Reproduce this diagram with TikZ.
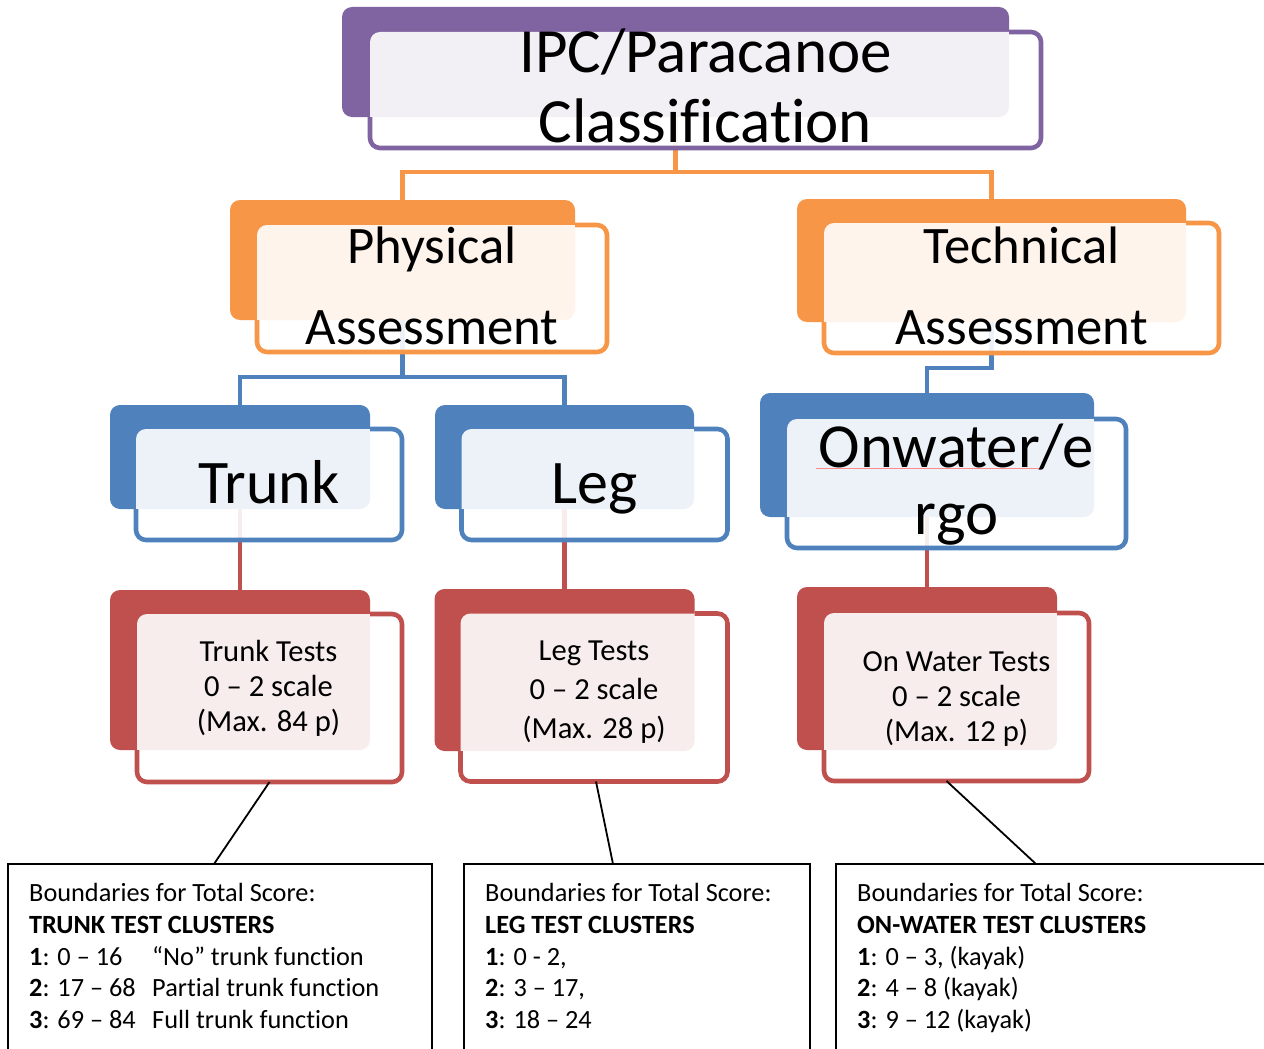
\documentclass[tikz,border=0pt]{standalone}
\usepackage{fontspec}
\setmainfont{Carlito}[Ligatures={NoCommon}]
\definecolor{cpur}{HTML}{8064A2}
\definecolor{corg}{HTML}{F79646}
\definecolor{cblu}{HTML}{4F81BD}
\definecolor{cred}{HTML}{C0504D}
\tikzset{
  backbox/.style={fill=#1, rounded corners=10pt, inner sep=0pt, outer sep=0pt, draw=none, rectangle},
  frontshape/.style={rectangle, inner sep=0pt, outer sep=0pt},
  link/.style={draw=#1, line width=4.6pt},
  frontborder/.style={draw=#1, line width=4.6pt, rounded corners=10pt},
  fronttint/.style={fill=white, fill opacity=0.9, rounded corners=10pt},
  thinlink/.style={draw=black, line width=1.8pt},
  scorebox/.style={rectangle, draw=black, line width=2pt, inner sep=0pt, outer sep=0pt},
  bigtext/.style={anchor=base, inner sep=0pt, font=\fontsize{63}{67}\selectfont},
  midtext/.style={anchor=base, inner sep=0pt, font=\fontsize{52.7}{60}\selectfont},
  boxtext/.style={anchor=base, inner sep=0pt, font=\fontsize{62}{67}\selectfont},
  testtext/.style={anchor=base, inner sep=0pt, font=\fontsize{30.6}{35}\selectfont},
  scoretext/.style={anchor=base west, inner sep=0pt, font=\fontsize{26.3}{31.8}\selectfont},
}
\newcommand\frontlayer[3]{%
  \fill[fronttint] (#1.north west) rectangle (#1.south east);
  \begin{scope}
    \clip (#2.east |- #1.north) ++(0,-10) rectangle ++(600,400)
          (#1.west |- #2.south) ++(-10,0) rectangle ++(900,400);
    \draw[frontborder=#3] (#1.north west) rectangle (#1.south east);
  \end{scope}}
\newcommand\colone[1]{\makebox[123pt][l]{#1}}
\begin{document}
\begin{tikzpicture}[x=1pt,y=-1pt]
\useasboundingbox (0,0) rectangle (1264,1049);
\fill[white] (0,0) rectangle (1264,1049);
% back shapes
\node[backbox=cpur, minimum width=667pt, minimum height=110pt] (topb) at (675.5,62) {};
\node[backbox=corg, minimum width=345pt, minimum height=120pt] (physb) at (402.5,260) {};
\node[backbox=corg, minimum width=389pt, minimum height=123pt] (techb) at (991.5,260.5) {};
\node[backbox=cblu, minimum width=260pt, minimum height=104pt] (trunkb) at (240,457) {};
\node[backbox=cblu, minimum width=259pt, minimum height=104pt] (legb) at (564.5,457) {};
\node[backbox=cblu, minimum width=334pt, minimum height=124pt] (onwb) at (927,455) {};
\node[backbox=cred, minimum width=260pt, minimum height=160pt] (ttb) at (240,670) {};
\node[backbox=cred, minimum width=260pt, minimum height=162pt] (ltb) at (564.5,670) {};
\node[backbox=cred, minimum width=260pt, minimum height=163pt] (otb) at (927,668.5) {};
% front shapes (positions only)
\path node[frontshape, minimum width=671pt, minimum height=116pt] (top) at (705.5,90) {};
\path node[frontshape, minimum width=350pt, minimum height=127pt] (phys) at (432,288.5) {};
\path node[frontshape, minimum width=395pt, minimum height=130pt] (tech) at (1021.5,288) {};
\path node[frontshape, minimum width=266pt, minimum height=111pt] (trunk) at (269,484.5) {};
\path node[frontshape, minimum width=266pt, minimum height=111pt] (leg) at (594.5,484.5) {};
\path node[frontshape, minimum width=339pt, minimum height=129pt] (onw) at (956.5,483.5) {};
\path node[frontshape, minimum width=265pt, minimum height=168pt] (tt) at (269.5,698) {};
\path node[frontshape, minimum width=267pt, minimum height=168pt] (lt) at (594,697.5) {};
\path node[frontshape, minimum width=265pt, minimum height=168pt] (ot) at (956.5,697) {};
% connectors
\draw[link=corg] (topb.south) -- (topb.south |- 0,172);
\draw[link=corg] (physb.north) |- (techb.north |- 0,172) -- (techb.north);
\draw[link=cblu] (physb.south) -- (physb.south |- 0,377);
\draw[link=cblu] (trunkb.north) |- (legb.north |- 0,377) -- (legb.north);
\draw[link=cblu] (techb.south) |- (onwb.north |- 0,368) -- (onwb.north);
\draw[link=cred] (trunkb.south) -- (ttb.north);
\draw[link=cred] (legb.south) -- (ltb.north);
\draw[link=cred] (onwb.south) -- (otb.north);
% front layers
\frontlayer{top}{topb}{cpur}
\frontlayer{phys}{physb}{corg}
\frontlayer{tech}{techb}{corg}
\frontlayer{trunk}{trunkb}{cblu}
\frontlayer{leg}{legb}{cblu}
\frontlayer{onw}{onwb}{cblu}
\frontlayer{tt}{ttb}{cred}
\frontlayer{lt}{ltb}{cred}
\frontlayer{ot}{otb}{cred}
% score boxes
\node[scorebox, minimum width=424pt, minimum height=206pt] (b1) at (220,967) {};
\node[scorebox, minimum width=346pt, minimum height=206pt] (b2) at (637,967) {};
\node[scorebox, minimum width=444pt, minimum height=206pt] (b3) at (1058,967) {};
\draw[thinlink] (tt.south) -- ([xshift=206pt]b1.north west);
\draw[thinlink] ([xshift=2pt]lt.south) -- ([xshift=149pt]b2.north west);
\draw[thinlink] ([xshift=-10pt]ot.south) -- ([xshift=200pt]b3.north west);
% spell-check underline
\draw[red!45, line width=0.7pt] (816,468) -- (1043,468);
% texts
\node[bigtext] (t1) at (705.5,73) {IPC/Paracanoe};
\node[bigtext] (t2) at (705.5,142) {Classification};
\node[midtext] (p1) at (432,263) {Physical};
\node[midtext] (p2) at (432,344) {Assessment};
\node[midtext] (q1) at (1021.5,263) {Technical};
\node[midtext] (q2) at (1021.5,344) {Assessment};
\node[boxtext] (r1) at (269,503) {Trunk};
\node[boxtext] (r2) at (594.5,503) {Leg};
\node[boxtext, font=\fontsize{62.7}{67}\selectfont] (r3) at (956.5,467) {Onwater/e};
\node[boxtext, font=\fontsize{62.7}{67}\selectfont] (r4) at (956.5,534) {rgo};
\node[testtext] (s1) at (268.5,661.5) {Trunk Tests};
\node[testtext] (s2) at (268.5,696) {0 – 2 scale};
\node[testtext] (s3) at (268.5,731.5) {(Max. 84 p)};
\node[testtext] (s4) at (594,660) {Leg Tests};
\node[testtext] (s5) at (594,699.5) {0 – 2 scale};
\node[testtext] (s6) at (594,738.5) {(Max. 28 p)};
\node[testtext] (s7) at (956.5,671) {On Water Tests};
\node[testtext] (s8) at (956.5,706) {0 – 2 scale};
\node[testtext] (s9) at (956.5,741) {(Max. 12 p)};
\node[scoretext] (x1) at (29,901.5) {\begin{tabular}[t]{@{}l@{}}
Boundaries for Total Score:\\
\textbf{TRUNK TEST CLUSTERS}\\
\colone{\textbf{1}: 0 – 16}“No” trunk function\\
\colone{\textbf{2}: 17 – 68}Partial trunk function\\
\colone{\textbf{3}: 69 – 84}Full trunk function
\end{tabular}};
\node[scoretext] (x2) at (485,901.5) {\begin{tabular}[t]{@{}l@{}}
Boundaries for Total Score:\\
\textbf{LEG TEST CLUSTERS}\\
\textbf{1}: 0 - 2,\\
\textbf{2}: 3 – 17,\\
\textbf{3}: 18 – 24
\end{tabular}};
\node[scoretext] (x3) at (857,901.5) {\begin{tabular}[t]{@{}l@{}}
Boundaries for Total Score:\\
\textbf{ON-WATER TEST CLUSTERS}\\
\textbf{1}: 0 – 3, (kayak)\\
\textbf{2}: 4 – 8 (kayak)\\
\textbf{3}: 9 – 12 (kayak)
\end{tabular}};
\end{tikzpicture}
\end{document}
